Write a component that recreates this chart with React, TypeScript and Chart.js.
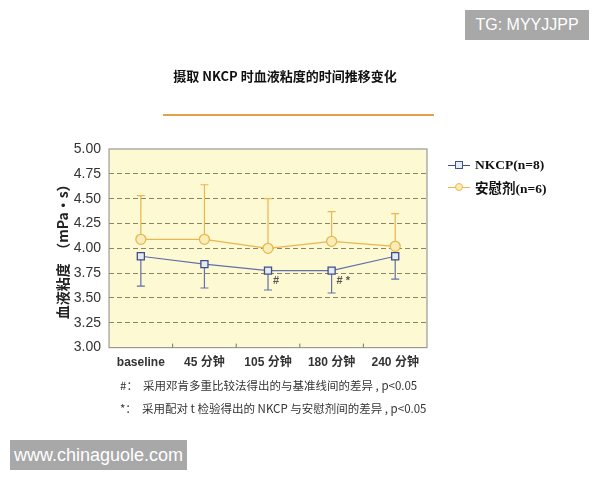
import React, { useEffect, useRef } from "react";
import { Chart, registerables } from "chart.js";

Chart.register(...registerables);

const categories = ["baseline", "45 分钟", "105 分钟", "180 分钟", "240 分钟"];
const nkcpValues = [3.92, 3.84, 3.775, 3.775, 3.92];
const nkcpLower = [3.62, 3.6, 3.58, 3.55, 3.69];
const placeboValues = [4.09, 4.09, 4.0, 4.07, 4.02];
const placeboUpper = [4.53, 4.64, 4.5, 4.37, 4.35];
const marks = ["", "", "#", "# *", ""];
const yTicks = [3.0, 3.25, 3.5, 3.75, 4.0, 4.25, 4.5, 4.75, 5.0];
const seriesNames = ["NKCP(n=8)", "安慰剂(n=6)"];

const BLUE = "#3f4f8c";
const BLUE_LINE = "#6470a8";
const BLUE_FILL = "#e6ecf0";
const ORANGE = "#e9b650";
const ORANGE_FILL = "#faeeb8";
const SANS = "'Liberation Sans', Arial, 'Noto Sans CJK SC', sans-serif";
const SERIF = "'Liberation Serif', 'Noto Sans CJK SC', serif";
const CJK = "'Noto Sans CJK SC', sans-serif";

const panelPlugin = {
  id: "panel",
  beforeDraw(chart: any) {
    const { ctx, chartArea: a } = chart;
    ctx.save();
    ctx.fillStyle = "#fcf9d3";
    ctx.fillRect(a.left, a.top, a.right - a.left, a.bottom - a.top);
    ctx.restore();
  },
  beforeDatasetsDraw(chart: any) {
    const { ctx, chartArea: a, scales } = chart;
    const x = scales.x;
    const y = scales.y;
    ctx.save();
    ctx.strokeStyle = "#9a9a9a";
    ctx.lineWidth = 1.2;
    ctx.strokeRect(a.left, a.top, a.right - a.left, a.bottom - a.top);
    ctx.strokeStyle = "#777";
    ctx.lineWidth = 1;
    for (let i = 1; i < categories.length; i++) {
      const px = (x.getPixelForValue(i - 1) + x.getPixelForValue(i)) / 2;
      ctx.beginPath();
      ctx.moveTo(px, a.bottom);
      ctx.lineTo(px, a.bottom - 4);
      ctx.stroke();
    }
    const drawBar = (vals: number[], bounds: number[], color: string) => {
      ctx.strokeStyle = color;
      ctx.lineWidth = 1.2;
      vals.forEach((v, i) => {
        const px = x.getPixelForValue(i);
        const p0 = y.getPixelForValue(v);
        const p1 = y.getPixelForValue(bounds[i]);
        ctx.beginPath();
        ctx.moveTo(px, p0);
        ctx.lineTo(px, p1);
        ctx.moveTo(px - 4, p1);
        ctx.lineTo(px + 4, p1);
        ctx.stroke();
      });
    };
    drawBar(placeboValues, placeboUpper, ORANGE);
    drawBar(nkcpValues, nkcpLower, BLUE_LINE);
    ctx.restore();
  },
  afterDatasetsDraw(chart: any) {
    const { ctx, scales } = chart;
    ctx.save();
    ctx.fillStyle = "#555";
    ctx.font = `bold 11px ${SANS}`;
    ctx.textBaseline = "middle";
    marks.forEach((m, i) => {
      if (!m) return;
      const px = scales.x.getPixelForValue(i) + 5;
      const py = scales.y.getPixelForValue(nkcpValues[i] - 0.1);
      ctx.fillText(m, px, py);
    });
    ctx.restore();
  },
};

function ChartBox() {
  const ref = useRef<HTMLCanvasElement>(null);
  useEffect(() => {
    const chart = new Chart(ref.current!, {
      type: "line",
      data: {
        labels: categories,
        datasets: [
          {
            label: seriesNames[0],
            data: nkcpValues,
            borderColor: BLUE_LINE,
            borderWidth: 1.2,
            pointStyle: "rect",
            pointRadius: 5,
            pointBorderColor: BLUE,
            pointBorderWidth: 1.3,
            pointBackgroundColor: BLUE_FILL,
            tension: 0,
          },
          {
            label: seriesNames[1],
            data: placeboValues,
            borderColor: ORANGE,
            borderWidth: 1.2,
            pointStyle: "circle",
            pointRadius: 5,
            pointBorderColor: ORANGE,
            pointBorderWidth: 1.3,
            pointBackgroundColor: ORANGE_FILL,
            tension: 0,
          },
        ],
      },
      options: {
        animation: false,
        responsive: false,
        devicePixelRatio: 1,
        layout: { padding: { top: 149, bottom: 110, left: 54, right: 173 } },
        plugins: {
          tooltip: { enabled: false },
          title: { display: false },
          legend: { display: false },
        },
        scales: {
          x: {
            offset: true,
            grid: { display: false },
            border: { display: false },
            ticks: {
              color: "#333",
              font: { family: SANS, size: 12, weight: "bold" },
              maxRotation: 0,
              autoSkip: false,
              padding: 0,
            },
          },
          y: {
            min: 3,
            max: 5,
            afterBuildTicks: (s: any) => {
              s.ticks = yTicks.map((v) => ({ value: v }));
            },
            ticks: {
              color: "#333",
              font: { family: SANS, size: 14 },
              padding: 8,
              callback: (v: any) => Number(v).toFixed(2),
            },
            grid: {
              color: (c: any) =>
                c.tick && (c.tick.value === 3 || c.tick.value === 5) ? "transparent" : "#8c8466",
              lineWidth: 1,
              drawTicks: false,
            },
            border: { display: false, dash: [5, 3] },
            title: {
              display: true,
              text: "血液粘度  （mPa・s）",
              color: "#222",
              font: { family: CJK, size: 14, weight: "bold" },
              padding: { top: 0, bottom: -5 },
            },
          },
        },
      },
      plugins: [panelPlugin],
    });
    return () => chart.destroy();
  }, []);
  return <canvas ref={ref} width={600} height={480} style={{ position: "absolute", left: 0, top: 0 }} />;
}

function LegendItem({ top, name, color, fill, shape }: any) {
  return (
    <div style={{ position: "absolute", left: 448, top: top - 9, height: 18, display: "flex", alignItems: "center" }}>
      <div style={{ position: "relative", width: 22, height: 18 }}>
        <div style={{ position: "absolute", left: 0, top: 8.5, width: 22, height: 1.2, background: color }} />
        <div
          style={{
            position: "absolute",
            left: 7,
            top: 5,
            width: 6,
            height: 6,
            border: `1.3px solid ${color}`,
            background: fill,
            borderRadius: shape === "circle" ? "50%" : 0,
          }}
        />
      </div>
      <span style={{ marginLeft: 5, fontFamily: SERIF, fontWeight: "bold", fontSize: 13.5, color: "#111" }}>{name}</span>
    </div>
  );
}

export default function App() {
  return (
    <div
      style={{
        position: "absolute",
        left: 0,
        top: 0,
        width: 600,
        height: 480,
        background: "#fff",
        overflow: "hidden",
        fontFamily: SANS,
      }}
    >
      <ChartBox />
      <LegendItem top={165} name={seriesNames[0]} color={BLUE} fill={BLUE_FILL} shape="rect" />
      <LegendItem top={187} name={seriesNames[1]} color={ORANGE} fill={ORANGE_FILL} shape="circle" />
      <div
        style={{
          position: "absolute",
          left: 0,
          width: 570,
          top: 66,
          textAlign: "center",
          fontWeight: "bold",
          fontSize: 13,
          color: "#111",
          fontFamily: CJK,
        }}
      >
        摄取 NKCP 时血液粘度的时间推移变化
      </div>
      <div style={{ position: "absolute", left: 163, top: 114, width: 271, height: 2, background: "#e3a14a" }} />
      <div style={{ position: "absolute", left: 120, top: 377, fontSize: 11.5, color: "#333", whiteSpace: "pre", fontFamily: CJK }}>
        {"#：  采用邓肯多重比较法得出的与基准线间的差异 , p<0.05"}
      </div>
      <div style={{ position: "absolute", left: 120, top: 400, fontSize: 11.5, color: "#333", whiteSpace: "pre", fontFamily: CJK }}>
        {"*：  采用配对 t 检验得出的 NKCP 与安慰剂间的差异 , p<0.05"}
      </div>
      <div
        style={{
          position: "absolute",
          left: 465,
          top: 10,
          width: 124,
          height: 30,
          background: "#a8a8a8",
          color: "#fff",
          fontSize: 16,
          lineHeight: "30px",
          textAlign: "center",
        }}
      >
        TG: MYYJJPP
      </div>
      <div
        style={{
          position: "absolute",
          left: 10,
          top: 440,
          width: 177,
          height: 30,
          background: "#a8a8a8",
          color: "#fff",
          fontSize: 18,
          lineHeight: "30px",
          textAlign: "center",
        }}
      >
        www.chinaguole.com
      </div>
    </div>
  );
}
